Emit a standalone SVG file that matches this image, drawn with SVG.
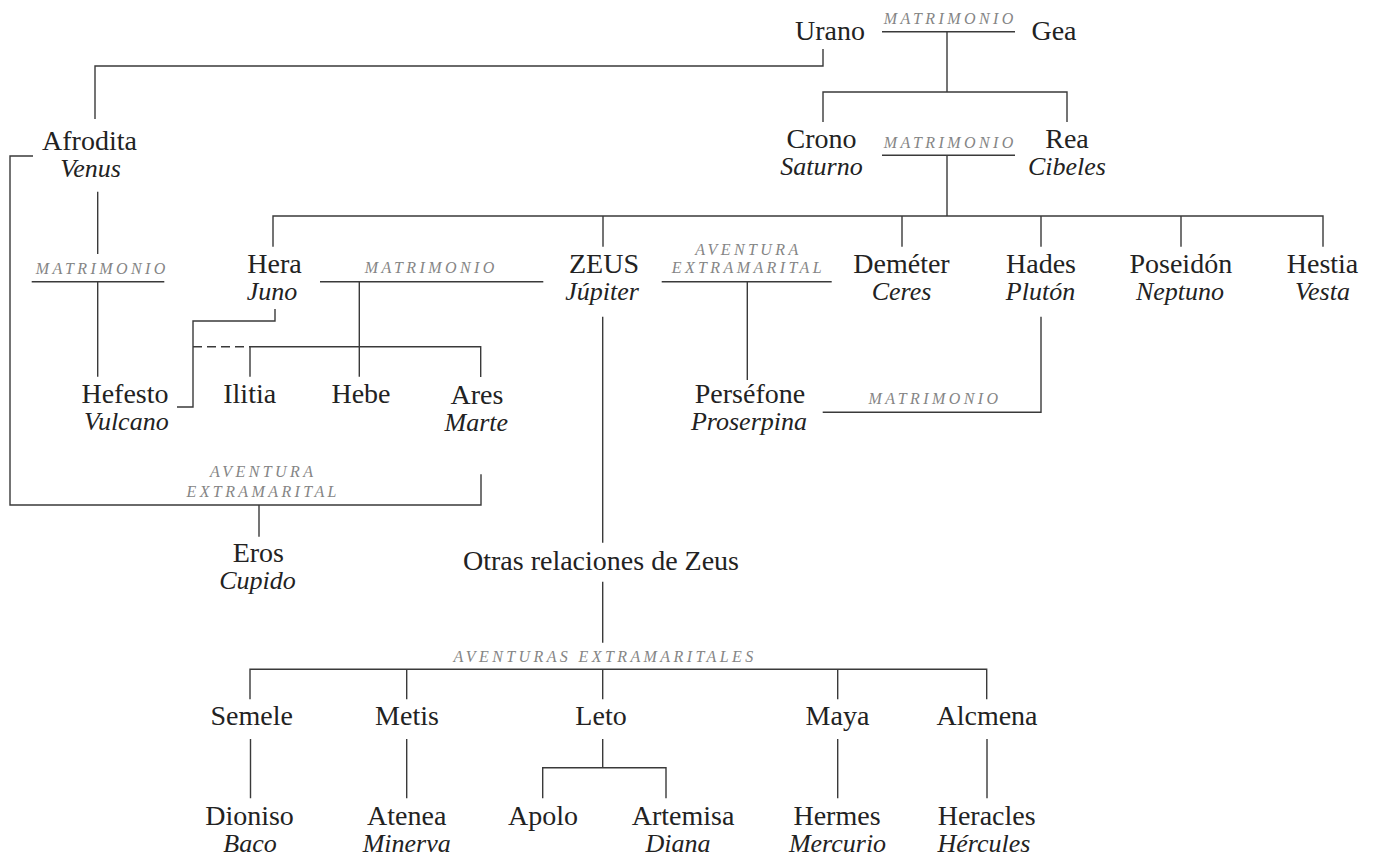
<svg xmlns="http://www.w3.org/2000/svg" width="1377" height="857" viewBox="0 0 1377 857">
<style>
.bg{fill:#ffffff}
.n{font-family:"Liberation Serif","Times New Roman",serif;font-size:28px;fill:#222;text-anchor:middle}
.r{font-family:"Liberation Serif","Times New Roman",serif;font-size:26px;font-style:italic;fill:#222;text-anchor:middle}
.l{font-family:"Liberation Serif","Times New Roman",serif;font-size:16px;font-style:italic;fill:#858585;text-anchor:middle;letter-spacing:3.4px}
.c{fill:none;stroke:#3a3a3a;stroke-width:1.4}
.d{fill:none;stroke:#3a3a3a;stroke-width:1.4;stroke-dasharray:9 5}
</style>
<rect class="bg" x="0" y="0" width="1377" height="857"/>
<g id="connectors">
<path class="c" d="M823,49 V66 H95 V119"/>
<path class="c" d="M882,31.7 H1015 M947,32 V92 M823,122 V92 H1067 V122"/>
<path class="c" d="M882,155.3 H1015 M947,155 V216"/>
<path class="c" d="M273,246.7 V216 H1323 V246.7 M603,216 V246.7 M902,216 V246.7 M1041,216 V246.7 M1181,216 V246.7"/>
<path class="c" d="M33,156 H10 V505 H481 V474.3 M259,505 V536.7"/>
<path class="c" d="M97.7,191.7 V254 M31.7,281.7 H164.3 M97.7,282 V376.7"/>
<path class="c" d="M320,281.7 H543.3 M359.3,282 V376.7"/>
<path class="c" d="M250,376.7 V346.7 H480.7 V377"/>
<path class="d" d="M193,346.7 H250"/>
<path class="c" d="M275,309 V321 H193 V407 H177"/>
<path class="c" d="M661.7,281.7 H831.7 M747.3,282 V380"/>
<path class="c" d="M1041,316.7 V412.3 H822.7"/>
<path class="c" d="M602.7,316.7 V542.7 M602.7,581.7 V642.7"/>
<path class="c" d="M250,699.3 V669.3 H986.7 V699.3 M406.7,669.3 V699.3 M602.7,669.3 V699.3 M837.7,669.3 V699.3"/>
<path class="c" d="M250.5,739 V798.3 M406.7,739 V798.3 M837.7,739 V798.3 M987,739 V798.3"/>
<path class="c" d="M602.7,739 V767.7 M542.7,798.3 V767.7 H666 V798.3"/>
<text class="l" x="950.2" y="24">MATRIMONIO</text>
<text class="l" x="950.2" y="148">MATRIMONIO</text>
<text class="l" x="102.2" y="274">MATRIMONIO</text>
<text class="l" x="431.2" y="272.7">MATRIMONIO</text>
<text class="l" x="935" y="404">MATRIMONIO</text>
<text class="l" x="748.4" y="255">AVENTURA</text>
<text class="l" x="748.4" y="272.7">EXTRAMARITAL</text>
<text class="l" x="263.2" y="477.3">AVENTURA</text>
<text class="l" x="263.2" y="497.3">EXTRAMARITAL</text>
<text class="l" x="605" y="661.7">AVENTURAS EXTRAMARITALES</text>
</g>
<g id="urano"><text class="n" x="830" y="40">Urano</text></g>
<g id="gea"><text class="n" x="1054" y="40">Gea</text></g>
<g id="crono"><text class="n" x="821.5" y="148">Crono</text><text class="r" x="821.5" y="175">Saturno</text></g>
<g id="rea"><text class="n" x="1067" y="148">Rea</text><text class="r" x="1067" y="175">Cibeles</text></g>
<g id="afrodita"><text class="n" x="89.5" y="150">Afrodita</text><text class="r" x="90.5" y="176.7">Venus</text></g>
<g id="hefesto"><text class="n" x="125" y="403.3">Hefesto</text><text class="r" x="126.3" y="430">Vulcano</text></g>
<g id="hera"><text class="n" x="274.5" y="273">Hera</text><text class="r" x="272" y="300">Juno</text></g>
<g id="zeus"><text class="n" x="604" y="273.3">ZEUS</text><text class="r" x="602" y="300">Júpiter</text></g>
<g id="demeter"><text class="n" x="901.5" y="273">Deméter</text><text class="r" x="901.5" y="300">Ceres</text></g>
<g id="hades"><text class="n" x="1041" y="273">Hades</text><text class="r" x="1040.5" y="300">Plutón</text></g>
<g id="poseidon"><text class="n" x="1180.8" y="273">Poseidón</text><text class="r" x="1180" y="300">Neptuno</text></g>
<g id="hestia"><text class="n" x="1322.5" y="273">Hestia</text><text class="r" x="1322.5" y="300">Vesta</text></g>
<g id="ilitia"><text class="n" x="249.7" y="403">Ilitia</text></g>
<g id="hebe"><text class="n" x="361" y="403">Hebe</text></g>
<g id="ares"><text class="n" x="477" y="404">Ares</text><text class="r" x="476.3" y="430.7">Marte</text></g>
<g id="persefone"><text class="n" x="750" y="403.3">Perséfone</text><text class="r" x="749" y="430">Proserpina</text></g>
<g id="eros"><text class="n" x="258.3" y="562">Eros</text><text class="r" x="257.5" y="589">Cupido</text></g>
<g id="otras"><text class="n" x="601" y="570">Otras relaciones de Zeus</text></g>
<g id="semele"><text class="n" x="251.7" y="725">Semele</text></g>
<g id="metis"><text class="n" x="407" y="725">Metis</text></g>
<g id="leto"><text class="n" x="601" y="725">Leto</text></g>
<g id="maya"><text class="n" x="837.5" y="725">Maya</text></g>
<g id="alcmena"><text class="n" x="987" y="725">Alcmena</text></g>
<g id="dioniso"><text class="n" x="249.5" y="825">Dioniso</text><text class="r" x="250" y="851.7">Baco</text></g>
<g id="atenea"><text class="n" x="406.7" y="825">Atenea</text><text class="r" x="406.7" y="851.7">Minerva</text></g>
<g id="apolo"><text class="n" x="543" y="825">Apolo</text></g>
<g id="artemisa"><text class="n" x="683" y="825">Artemisa</text><text class="r" x="678" y="851.7">Diana</text></g>
<g id="hermes"><text class="n" x="837" y="825">Hermes</text><text class="r" x="837.5" y="851.7">Mercurio</text></g>
<g id="heracles"><text class="n" x="986.7" y="825">Heracles</text><text class="r" x="984" y="851.7">Hércules</text></g>
</svg>
